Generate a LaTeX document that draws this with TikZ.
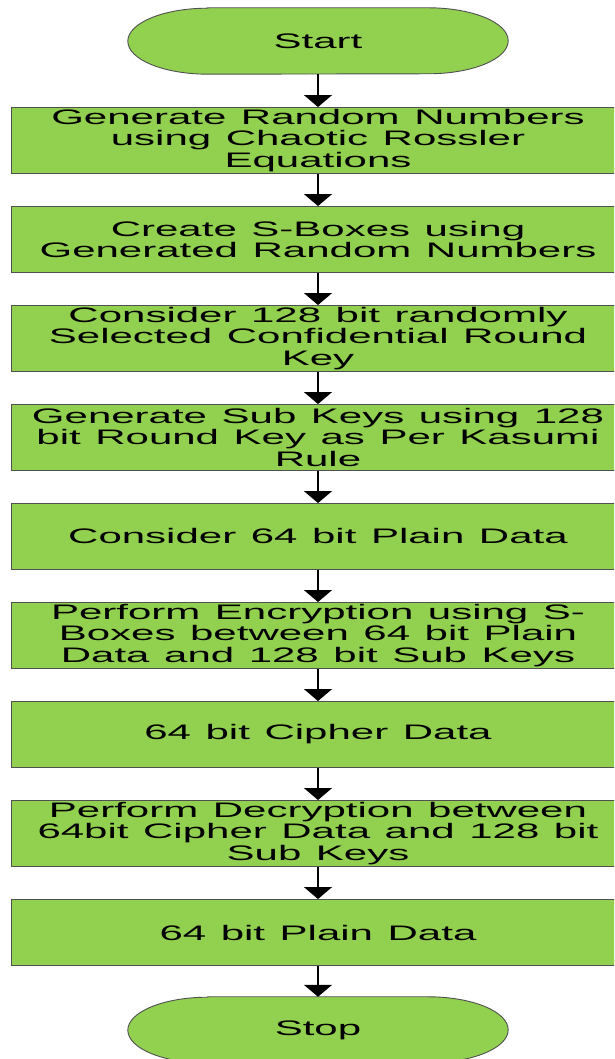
\documentclass[tikz,border=0pt]{standalone}
\usepackage{fontspec}
\setmainfont{Liberation Sans}[FakeStretch=2.0,WordSpace=1.25]
\usetikzlibrary{arrows.meta,backgrounds}
\definecolor{boxgreen}{HTML}{92D050}
\definecolor{edgegray}{HTML}{505050}
\tikzset{
  stepbox/.style={draw=edgegray, line width=0.9pt, fill=boxgreen, minimum width=613pt,
    minimum height=66pt, inner sep=0pt, align=center, font=\fontsize{21}{21.5}\selectfont},
  termtext/.style={draw=none, minimum width=380pt, minimum height=66pt, inner sep=0pt,
    font=\fontsize{21}{21.5}\selectfont},
  termshape/.style={draw=edgegray, line width=0.9pt, fill=boxgreen},
  flowarrow/.style={draw=black, line width=1.4pt, -{Triangle[width=28pt,length=12pt]}}
}
\newcommand{\terminal}[1]{%
  \path[termshape] ([xshift=80pt]#1.north west) -- ([xshift=-80pt]#1.north east)
    arc[start angle=90,end angle=-90,x radius=80pt,y radius=33pt]
    -- ([xshift=80pt]#1.south west)
    arc[start angle=270,end angle=90,x radius=80pt,y radius=33pt] -- cycle;}
\begin{document}
\begin{tikzpicture}[x=1pt,y=1pt]
\clip (0,0) rectangle (614,1059);
\node[termtext] (start) at (318,1018) {Start};
\node[stepbox] (b1) at (318,918.5) {Generate Random Numbers\\using Chaotic Rossler\\Equations};
\node[stepbox] (b2) at (318,819.5) {Create S-Boxes using\\Generated Random Numbers};
\node[stepbox] (b3) at (318,720.5) {Consider 128 bit randomly\\Selected Confidential Round\\Key};
\node[stepbox] (b4) at (318,621.5) {Generate Sub Keys using 128\\bit Round Key as Per Kasumi\\Rule};
\node[stepbox] (b5) at (318,522.5) {Consider 64 bit Plain Data};
\node[stepbox] (b6) at (318,423.5) {Perform Encryption using S-\\Boxes between 64 bit Plain\\Data and 128 bit Sub Keys};
\node[stepbox] (b7) at (318,324.5) {64 bit Cipher Data};
\node[stepbox] (b8) at (318,225.5) {Perform Decryption between\\64bit Cipher Data and 128 bit\\Sub Keys};
\node[stepbox] (b9) at (318,126.5) {64 bit Plain Data};
\node[termtext] (stop) at (318,29) {Stop};
\begin{scope}[on background layer]
\terminal{start}
\terminal{stop}
\end{scope}
\draw[flowarrow] (start.south) -- (b1.north);
\draw[flowarrow] (b1.south) -- (b2.north);
\draw[flowarrow] (b2.south) -- (b3.north);
\draw[flowarrow] (b3.south) -- (b4.north);
\draw[flowarrow] (b4.south) -- (b5.north);
\draw[flowarrow] (b5.south) -- (b6.north);
\draw[flowarrow] (b6.south) -- (b7.north);
\draw[flowarrow] (b7.south) -- (b8.north);
\draw[flowarrow] (b8.south) -- (b9.north);
\draw[flowarrow] (b9.south) -- (stop.north);
\end{tikzpicture}
\end{document}
